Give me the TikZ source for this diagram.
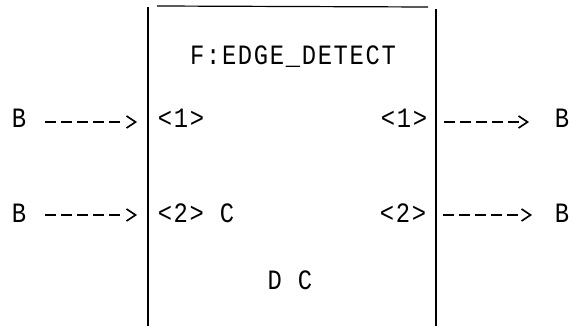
\documentclass[tikz,border=0pt]{standalone}
\usepackage{fontspec}
\newfontfamily\plotfont[FakeStretch=0.85,LetterSpace=6]{Liberation Mono}
\usetikzlibrary{arrows.meta}

\begin{document}
\begin{tikzpicture}[
  x=1pt,y=-1pt,
  txt/.style={font=\plotfont\fontsize{28}{28}\selectfont,inner sep=0pt,anchor=base},
  side/.style={line width=1.8pt},
  sig/.style={-{Straight Barb[length=9pt,width=12pt,line width=1.6pt]},line width=1.6pt,
    dash pattern=on 11pt off 5pt on 11pt off 5pt on 11pt off 5pt on 11pt off 5pt on 11pt off 40pt}
]
\useasboundingbox (0,0) rectangle (573,326);
% block outline
\coordinate (tl) at (148,7);
\coordinate (bl) at (148,326);
\coordinate (tr) at (436,9);
\coordinate (br) at (436,326);
\coordinate (ts) at (157,6);
\coordinate (te) at (428,7);
\draw[side] (tl) -- (bl);
\draw[side] (tr) -- (br);
\draw[line width=1.2pt] (ts) -- (te);
% labels
\node[txt] (title) at (293,65) {F:EDGE\_DETECT};
\node[txt] (inB1) at (19,128) {B};
\node[txt] (inB2) at (19,222) {B};
\node[txt] (inP1) at (181,128) {<1>};
\node[txt] (inP2) at (196,222) {<2> C};
\node[txt] (outP1) at (404,128) {<1>};
\node[txt] (outP2) at (403,222) {<2>};
\node[txt] (outB1) at (562,128) {B};
\node[txt] (outB2) at (562,222) {B};
\node[txt] (dc) at (290,289) {D C};
% signal arrows
\coordinate (inT1) at (137,122);
\coordinate (inT2) at (137,215);
\coordinate (outS1) at (444,122);
\coordinate (outS2) at (443,215);
\coordinate (outT1) at (529,122);
\coordinate (outT2) at (532,215);
\draw[sig] (inB1.east |- inT1) ++(19,0) -- (inT1);
\draw[sig] (inB2.east |- inT2) ++(19,0) -- (inT2);
\draw[sig] (outS1) -- (outT1);
\draw[sig] (outS2) -- (outT2);
\end{tikzpicture}
\end{document}
